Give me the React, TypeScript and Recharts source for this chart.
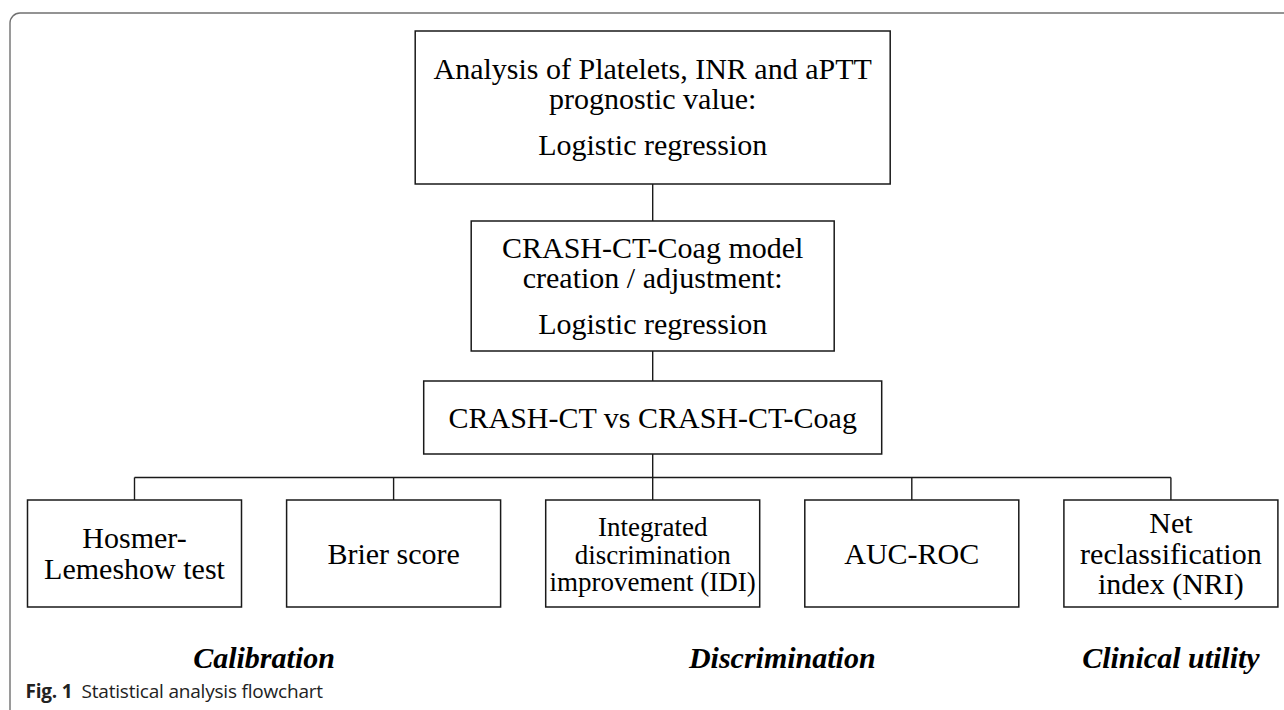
import { ScatterChart, Scatter, XAxis, YAxis, ReferenceArea, ReferenceLine } from 'recharts';

// Flowchart content
const stageHeadings = [
  ['Analysis of Platelets, INR and aPTT', 'prognostic value:'],
  ['CRASH-CT-Coag model', 'creation / adjustment:'],
  ['CRASH-CT vs CRASH-CT-Coag'],
];
const stageMethods = ['Logistic regression', 'Logistic regression', ''];

const metricLines = [
  ['Hosmer-', 'Lemeshow test'],
  ['Brier score'],
  ['Integrated', 'discrimination', 'improvement (IDI)'],
  ['AUC-ROC'],
  ['Net', 'reclassification', 'index (NRI)'],
];
const metricSmall = [false, false, true, false, false];

const groupLabels = ['Calibration', 'Discrimination', 'Clinical utility'];
const groupSpans = [
  [0, 1],
  [2, 3],
  [4, 4],
];

const captionLabel = 'Fig. 1';
const captionText = 'Statistical analysis flowchart';

// Layout: x is in metric-column units, y in layout units (top = 0)
const W = 1284;
const H = 710;
const COL_STEP = 259.1;
const COL0 = 134.5;
const X_DOMAIN: [number, number] = [-COL0 / COL_STEP, (W - COL0) / COL_STEP];
const METRIC_W = 214 / COL_STEP;
const STAGE_W = [475 / COL_STEP, 363 / COL_STEP, 458 / COL_STEP];
const STAGE_Y = [
  [31, 184],
  [221, 351],
  [381, 454],
];
const METRIC_Y = [500, 607];
const BUS_Y = 477.5;
const SPINE = 2;
const LABEL_Y = 668;
const CAPTION_Y = 698;

const SERIF = '"Liberation Serif", "Times New Roman", serif';
const SANS = '"Open Sans", "Noto Sans", sans-serif';

interface TextBlock {
  x: number;
  y: number; // baseline of first line
  lines: string[];
  steps: number[]; // distance from previous baseline
  size: number;
  bold?: boolean;
  italic?: boolean;
}

const textBlocks: TextBlock[] = [];

stageHeadings.forEach((lines, i) => {
  const [y0, y1] = STAGE_Y[i];
  const mid = (y0 + y1) / 2;
  if (stageMethods[i]) {
    textBlocks.push({
      x: SPINE,
      y: mid - 28.5,
      lines: [...lines, stageMethods[i]],
      steps: [0, ...lines.slice(1).map(() => 30), 46],
      size: 30,
    });
  } else {
    textBlocks.push({ x: SPINE, y: mid + 10.5, lines, steps: [0], size: 30 });
  }
});

metricLines.forEach((lines, i) => {
  const mid = (METRIC_Y[0] + METRIC_Y[1]) / 2;
  const lh = metricSmall[i] ? 27.5 : 30.5;
  textBlocks.push({
    x: i,
    y: mid + 10 - ((lines.length - 1) / 2) * lh,
    lines,
    steps: lines.map((_, k) => (k === 0 ? 0 : lh)),
    size: metricSmall[i] ? 27 : 30,
  });
});

groupLabels.forEach((t, i) => {
  const [a, b] = groupSpans[i];
  textBlocks.push({ x: (a + b) / 2, y: LABEL_Y, lines: [t], steps: [0], size: 30, bold: true, italic: true });
});

const captionPoint = [{ x: -METRIC_W / 2 - 2 / COL_STEP, y: CAPTION_Y }];

const renderText = (props: any) => {
  const { cx, cy, payload } = props;
  return (
    <text
      x={cx}
      y={cy}
      textAnchor="middle"
      fontFamily={SERIF}
      fontSize={payload.size}
      fontWeight={payload.bold ? 700 : 400}
      fontStyle={payload.italic ? 'italic' : 'normal'}
      fill="#000"
    >
      {payload.lines.map((t: string, k: number) => (
        <tspan key={k} x={cx} dy={payload.steps[k]}>
          {t}
        </tspan>
      ))}
    </text>
  );
};

const renderCaption = (props: any) => {
  const { cx, cy } = props;
  return (
    <text x={cx} y={cy} fontFamily={SANS} fontSize={19} fill="#222" letterSpacing={-0.2}>
      <tspan fontWeight={700}>{captionLabel}</tspan>
      <tspan dx={9}>{captionText}</tspan>
    </text>
  );
};

const boxStyle = { fill: '#fff', fillOpacity: 1, stroke: '#1a1a1a', strokeWidth: 1.5 };
const lineStyle = { stroke: '#1a1a1a', strokeWidth: 1.4 };

const App = () => (
  <div style={{ position: 'absolute', left: 0, top: 0, width: W, height: H, background: '#fff' }}>
    <ScatterChart width={W} height={H} margin={{ top: 0, right: 0, bottom: 0, left: 0 }}>
      <XAxis type="number" dataKey="x" domain={X_DOMAIN} allowDataOverflow hide />
      <YAxis type="number" dataKey="y" domain={[0, H]} reversed allowDataOverflow hide />

      {/* figure frame */}
      <ReferenceArea
        x1={X_DOMAIN[0] + 10 / COL_STEP}
        x2={X_DOMAIN[1] + 1}
        y1={13}
        y2={H + 20}
        ifOverflow="visible"
        fill="none"
        stroke="#707070"
        strokeWidth={1.4}
        radius={[10, 0, 0, 0]}
      />

      {/* connectors */}
      <ReferenceLine segment={[{ x: SPINE, y: STAGE_Y[0][1] }, { x: SPINE, y: STAGE_Y[1][0] }]} {...lineStyle} />
      <ReferenceLine segment={[{ x: SPINE, y: STAGE_Y[1][1] }, { x: SPINE, y: STAGE_Y[2][0] }]} {...lineStyle} />
      <ReferenceLine segment={[{ x: SPINE, y: STAGE_Y[2][1] }, { x: SPINE, y: BUS_Y }]} {...lineStyle} />
      <ReferenceLine segment={[{ x: 0, y: BUS_Y }, { x: metricLines.length - 1, y: BUS_Y }]} {...lineStyle} />
      {metricLines.map((_, i) => (
        <ReferenceLine key={`drop-${i}`} segment={[{ x: i, y: BUS_Y }, { x: i, y: METRIC_Y[0] }]} {...lineStyle} />
      ))}

      {/* boxes */}
      {stageHeadings.map((_, i) => (
        <ReferenceArea
          key={`stage-${i}`}
          x1={SPINE - STAGE_W[i] / 2}
          x2={SPINE + STAGE_W[i] / 2}
          y1={STAGE_Y[i][0]}
          y2={STAGE_Y[i][1]}
          {...boxStyle}
        />
      ))}
      {metricLines.map((_, i) => (
        <ReferenceArea
          key={`metric-${i}`}
          x1={i - METRIC_W / 2}
          x2={i + METRIC_W / 2}
          y1={METRIC_Y[0]}
          y2={METRIC_Y[1]}
          {...boxStyle}
        />
      ))}

      <Scatter data={textBlocks} shape={renderText} isAnimationActive={false} />
      <Scatter data={captionPoint} shape={renderCaption} isAnimationActive={false} />
    </ScatterChart>
  </div>
);

export default App;
